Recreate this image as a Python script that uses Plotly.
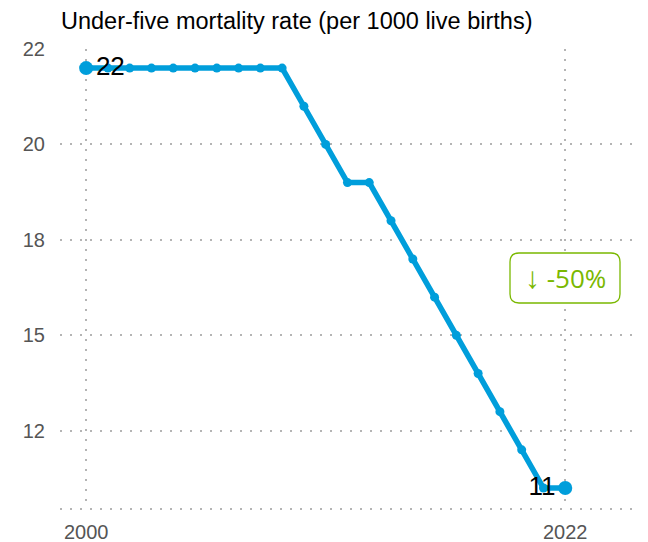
import plotly.graph_objects as go

years = list(range(2000, 2023))
u5mr = [22, 22, 22, 22, 22, 22, 22, 22, 22, 22, 21, 20, 19, 19, 18, 17, 16, 15, 14, 13, 12, 11, 11]
ytick_vals = [12.5, 15, 17.5, 20, 22.5]
ytick_text = ["12", "15", "18", "20", "22"]
xtick_vals = [2000, 2022]
title_text = "Under-five mortality rate (per 1000 live births)"
change_arrow = "↓"
change_text = "-50%"

BLUE = "#009EDB"
GREEN = "#7AB800"
GRID = "#b4b4b4"
FONT = "Liberation Sans, Arial, sans-serif"

# page body has an 8px margin; figure is sized/offset to compensate
FW, FH = 640, 534
ML, MT, MB = 52, 41, 33

n = len(years)
sizes = [14] + [9] * (n - 2) + [14]
texts = [str(u5mr[0])] + [""] * (n - 2) + [str(u5mr[-1])]
positions = ["middle right"] + ["middle center"] * (n - 2) + ["middle left"]

fig = go.Figure()
fig.add_trace(go.Scatter(
    x=years, y=u5mr, mode="lines+markers+text",
    line=dict(color=BLUE, width=5.5),
    marker=dict(color=BLUE, size=sizes, opacity=1, line=dict(width=0)),
    text=texts, textposition=positions,
    textfont=dict(family=FONT, size=26, color="#000000"),
    cliponaxis=False, hoverinfo="x+y", showlegend=False,
))

# rounded box for the change annotation (paper coords, page pixels)
W, H = float(FW - ML), float(FH - MT - MB)
left_px, bottom_px = 8 + ML, 8 + FH - MB
px0, px1 = 510 - left_px, 620 - left_px
py0, py1 = bottom_px - 303, bottom_px - 253
r = 9.0
def P(x, y):
    return f"{x / W:.5f},{y / H:.5f}"
path = (f"M {P(px0 + r, py0)} L {P(px1 - r, py0)} Q {P(px1, py0)} {P(px1, py0 + r)} "
        f"L {P(px1, py1 - r)} Q {P(px1, py1)} {P(px1 - r, py1)} "
        f"L {P(px0 + r, py1)} Q {P(px0, py1)} {P(px0, py1 - r)} "
        f"L {P(px0, py0 + r)} Q {P(px0, py0)} {P(px0 + r, py0)} Z")

fig.add_shape(type="path", path=path, xref="paper", yref="paper",
              line=dict(color=GREEN, width=1.3), fillcolor="rgba(255,255,255,1)", layer="above")
fig.add_shape(type="line", xref="paper", yref="y domain", x0=0, x1=1, y0=0, y1=0,
              line=dict(color=GRID, width=2, dash="2px,8px"), layer="below")

fig.add_annotation(
    x=xtick_vals[-1], y=(u5mr[0] + u5mr[-1]) / 2,
    text=(f"<span style='font-family:Liberation Sans, Arial, sans-serif;font-size:30px'>{change_arrow}</span>"
          f" {change_text}"),
    showarrow=False, font=dict(family="Open Sans, sans-serif", size=26, color=GREEN),
    xanchor="center", yanchor="middle")

fig.update_layout(
    width=FW, height=FH,
    margin=dict(l=ML, r=0, t=MT, b=MB, pad=0),
    paper_bgcolor="white", plot_bgcolor="white",
    title=dict(text=title_text, x=(61 - 8) / FW, xref="container", xanchor="left",
               y=1 - (21 - 8) / FH, yref="container", yanchor="middle",
               font=dict(family=FONT, size=23.5, color="#000000")),
    xaxis=dict(range=[1998.8, 2025.8], tickvals=xtick_vals, showgrid=True,
               gridcolor=GRID, gridwidth=2, griddash="2px,8px", zeroline=False,
               showline=False, ticks="outside", ticklen=5, tickcolor="rgba(0,0,0,0)",
               tickfont=dict(family=FONT, size=20, color="#555555")),
    yaxis=dict(range=[10.45, 22.5], tickvals=ytick_vals, ticktext=ytick_text,
               showgrid=True, gridcolor=GRID, gridwidth=2, griddash="2px,8px",
               zeroline=False, showline=False, ticks="outside", ticklen=10,
               tickcolor="rgba(0,0,0,0)",
               tickfont=dict(family=FONT, size=20, color="#555555")),
)

fig.write_html("out.html")
